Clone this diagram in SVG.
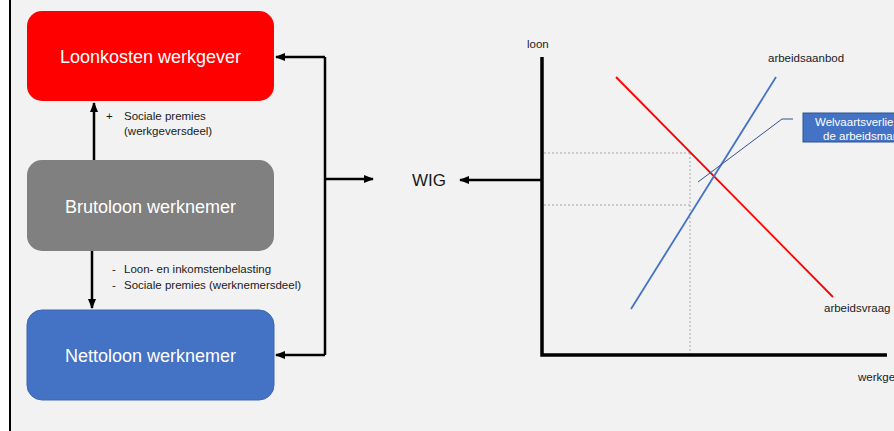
<svg xmlns="http://www.w3.org/2000/svg" width="894" height="431" viewBox="0 0 894 431">
  <defs>
    <marker id="arrow" viewBox="0 0 10 10" refX="9" refY="5" markerWidth="4" markerHeight="4" orient="auto-start-reverse" markerUnits="strokeWidth">
      <path d="M0,1 L10,5 L0,9 z" fill="#000"/>
    </marker>
    <clipPath id="page"><rect x="0" y="0" width="894" height="431"/></clipPath>
  </defs>
  <style>
    .box-text { font-family: "Liberation Sans", Arial, sans-serif; font-size: 18px; fill: #ffffff; text-anchor: middle; }
    .note { font-family: "Liberation Sans", Arial, sans-serif; font-size: 11.5px; fill: #1a1a1a; }
    .label { font-family: "Liberation Sans", Arial, sans-serif; font-size: 11.5px; fill: #1a1a1a; }
    .conn { stroke: #000; stroke-width: 2.5; fill: none; }
    .axis { stroke: #000; stroke-width: 3.5; fill: none; }
    .guide { stroke: #a6a6a6; stroke-width: 1; stroke-dasharray: 2 2; fill: none; }
  </style>

  <!-- page background with left rule -->
  <rect x="0" y="0" width="894" height="431" fill="#ffffff"/>
  <rect x="10" y="0" width="884" height="431" fill="#f2f2f2"/>
  <line x1="10" y1="0" x2="10" y2="431" stroke="#000" stroke-width="2"/>

  <!-- wage boxes -->
  <g id="loonkosten">
    <rect x="27" y="11" width="247" height="90" rx="15" fill="#ff0000"/>
    <text class="box-text" x="150.5" y="63">Loonkosten werkgever</text>
  </g>
  <g id="brutoloon">
    <rect x="27" y="160" width="247" height="91" rx="15" fill="#808080"/>
    <text class="box-text" x="150.5" y="213">Brutoloon werknemer</text>
  </g>
  <g id="nettoloon">
    <rect x="27" y="310" width="247" height="90" rx="15" fill="#4472c4" stroke="#3d67b3" stroke-width="1"/>
    <text class="box-text" x="150.5" y="362">Nettoloon werknemer</text>
  </g>

  <!-- notes beside the vertical arrows -->
  <g id="note-werkgever">
    <text class="note" x="106" y="120">+</text>
    <text class="note" x="124" y="120">Sociale premies</text>
    <text class="note" x="124" y="135">(werkgeversdeel)</text>
  </g>
  <g id="note-werknemer">
    <text class="note" x="112" y="273">-</text>
    <text class="note" x="124" y="273">Loon- en inkomstenbelasting</text>
    <text class="note" x="112" y="289">-</text>
    <text class="note" x="124" y="289">Sociale premies (werknemersdeel)</text>
  </g>

  <g id="wig">
    <text x="412" y="186" font-family="Liberation Sans, Arial, sans-serif" font-size="17" fill="#1a1a1a">WIG</text>
  </g>

  <!-- connectors -->
  <g id="connectors">
    <line class="conn" x1="94" y1="160" x2="94" y2="103" marker-end="url(#arrow)"/>
    <line class="conn" x1="92" y1="251" x2="92" y2="308" marker-end="url(#arrow)"/>
    <polyline class="conn" points="325,57 325,355"/>
    <line class="conn" x1="325" y1="57" x2="276" y2="57" marker-end="url(#arrow)"/>
    <line class="conn" x1="325" y1="355" x2="276" y2="355" marker-end="url(#arrow)"/>
    <line class="conn" x1="325" y1="179" x2="373" y2="179" marker-end="url(#arrow)"/>
    <line class="conn" x1="543" y1="180" x2="460" y2="180" marker-end="url(#arrow)"/>
  </g>

  <!-- labour market chart -->
  <g id="chart" clip-path="url(#page)">
    <line class="guide" x1="544" y1="153" x2="690" y2="153"/>
    <line class="guide" x1="544" y1="205" x2="690" y2="205"/>
    <line class="guide" x1="690" y1="153" x2="690" y2="354"/>
    <polyline class="axis" points="542,57 542,355 887,355"/>
    <text class="label" x="527" y="48">loon</text>
    <text class="label" x="858" y="381">werkgelegenheid</text>

    <line x1="616" y1="77" x2="833" y2="297" stroke="#ff0000" stroke-width="1.8"/>
    <text class="label" x="824" y="312">arbeidsvraag</text>

    <line x1="631" y1="309" x2="776" y2="77" stroke="#4472c4" stroke-width="1.8"/>
    <text class="label" x="768" y="62">arbeidsaanbod</text>

    <polyline points="698,182 782,119 793,119" stroke="#2f528f" stroke-width="1" fill="none"/>
    <rect x="803" y="113" width="140" height="29" fill="#4472c4" stroke="#2f528f" stroke-width="1"/>
    <text x="815" y="126" font-family="Liberation Sans, Arial, sans-serif" font-size="11.5" fill="#ffffff">Welvaartsverlies</text>
    <text x="823" y="140" font-family="Liberation Sans, Arial, sans-serif" font-size="11.5" fill="#ffffff">de arbeidsmarkt</text>
  </g>
</svg>
